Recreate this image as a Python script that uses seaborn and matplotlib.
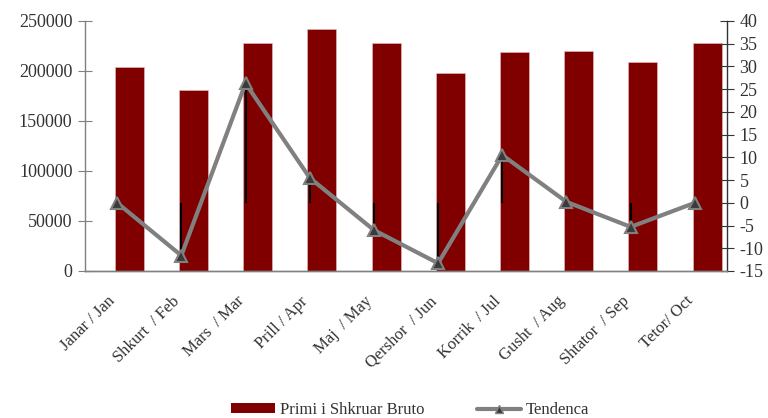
import numpy as np
import pandas as pd
import seaborn as sns
import matplotlib.pyplot as plt
from matplotlib.patches import Patch
from matplotlib.lines import Line2D

# Data
months = ['Janar / Jan', 'Shkurt  / Feb', 'Mars  / Mar', 'Prill / Apr', 'Maj  / May',
          'Qershor  / Jun', 'Korrik  / Jul', 'Gusht  / Aug', 'Shtator  / Sep', 'Tetor/ Oct']
premium = [204300, 181000, 228300, 241700, 227700, 198000, 219300, 220000, 209000, 228300]
trend = [0.0, -11.6, 26.3, 5.5, -6.0, -13.3, 10.5, 0.2, -5.3, 0.0]

bar_color = '#800000'
line_color = '#808080'
axis_color = '#808080'
text_color = '#333333'

sns.set_style('white')
plt.rcParams['font.family'] = ['Liberation Serif', 'DejaVu Serif']
plt.rcParams['axes.unicode_minus'] = False

pos = np.arange(len(months))
df = pd.DataFrame({'pos': pos + 0.19, 'premium': premium})

fig, ax = plt.subplots(figsize=(7.68, 4.18), dpi=100)
fig.subplots_adjust(left=0.1107, right=0.9466, top=0.9498, bottom=0.3517)

sns.barplot(data=df, x='pos', y='premium', native_scale=True, width=0.45,
            color=bar_color, saturation=1, errorbar=None, ax=ax,
            edgecolor='#e8c0c0', linewidth=0.4)
ax.set_xlim(-0.5, len(months) - 0.5)
ax.set_ylim(0, 250000)
ax.set_yticks(range(0, 250001, 50000))
# label anchors sit a bit left of the slot centre, as in the original
ax.set_xticks(pos - 0.15)
ax.set_xticklabels(months, rotation=45, ha='right', rotation_mode='anchor',
                   fontsize=12, color=text_color)
ax.set_xticks(np.arange(-0.5, len(months)), minor=True)
ax.tick_params(axis='x', which='major', length=0, pad=16)
ax.tick_params(axis='x', which='minor', length=10, direction='inout', color='#333333', width=1)
ax.tick_params(axis='y', length=10, direction='inout', color=axis_color, labelsize=13,
               labelcolor=text_color, pad=4)
ax.set_xlabel('')
ax.set_ylabel('')

ax2 = ax.twinx()
ax2.vlines(pos, 0, trend, color='black', linewidth=1.5, zorder=1)
sns.lineplot(x=pos, y=trend, ax=ax2, color=line_color, linewidth=3,
             marker='^', markersize=8, markerfacecolor='#3a3a3a',
             markeredgecolor=line_color, markeredgewidth=1.5, zorder=3)
ax2.set_ylim(-15, 40)
ax2.set_yticks(range(-15, 41, 5))
ax2.tick_params(axis='y', length=10, direction='inout', color='#333333', labelsize=13,
                labelcolor=text_color, pad=4)
ax2.set_xlim(-0.5, len(months) - 0.5)

for a in (ax, ax2):
    a.spines['top'].set_visible(False)
    for s in ('left', 'right', 'bottom'):
        a.spines[s].set_color(axis_color)
        a.spines[s].set_linewidth(1)
ax.spines['right'].set_visible(False)
ax2.spines['left'].set_visible(False)
ax2.spines['right'].set_color('#333333')

handles = [Patch(facecolor=bar_color, edgecolor='none'),
           Line2D([0], [0], color=line_color, linewidth=3, marker='^', markersize=6,
                  markerfacecolor='#3a3a3a', markeredgecolor=line_color)]
fig.legend(handles, ['Primi i Shkruar Bruto', 'Tendenca'], loc='lower center',
           bbox_to_anchor=(0.534, -0.036), ncol=2, frameon=False, fontsize=12,
           handlelength=2.6, handleheight=0.5, columnspacing=3.2, handletextpad=0.3,
           labelcolor=text_color)

fig.savefig('out.png', dpi=100)
